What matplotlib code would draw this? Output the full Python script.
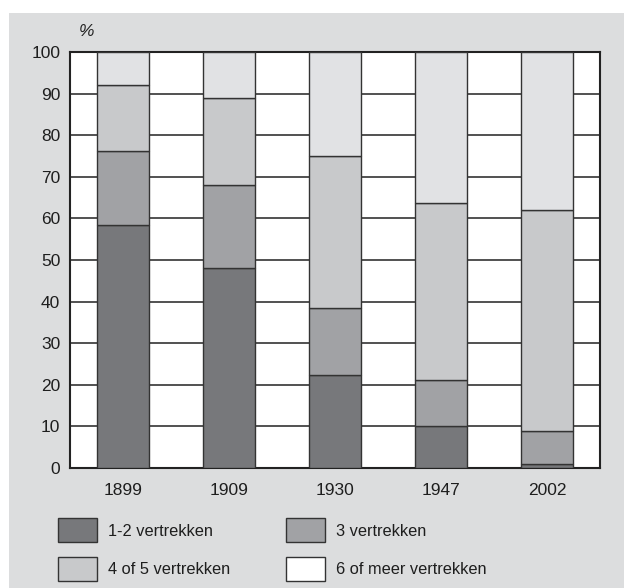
import matplotlib.pyplot as plt
from matplotlib.patches import Rectangle
import numpy as np

plt.rcParams['font.family'] = ['Liberation Sans', 'DejaVu Sans']

years = ["1899", "1909", "1930", "1947", "2002"]
labels = ["1-2 vertrekken", "3 vertrekken", "4 of 5 vertrekken", "6 of meer vertrekken"]
v12 = [58.3, 48.0, 22.3, 10.0, 1.0]
v3 = [17.9, 20.0, 16.2, 11.2, 8.0]
v45 = [15.9, 21.0, 36.4, 42.5, 53.0]
v6 = [100 - a - b - c for a, b, c in zip(v12, v3, v45)]
series = [v12, v3, v45, v6]
colors = ["#77787b", "#a1a2a5", "#c8c9cb", "#e1e2e4"]

fig = plt.figure(figsize=(6.24, 5.88), dpi=100)
fig.patches.append(Rectangle((9/624, 0), 1, 1 - 13/588, transform=fig.transFigure,
                             facecolor="#dcddde", edgecolor="none", zorder=-10))

ax = fig.add_axes([70/624, 1 - 468/588, 530/624, 416/588])
ax.set_facecolor("white")
x = np.arange(len(years))
bottom = np.zeros(len(years))
for vals, col in zip(series, colors):
    ax.bar(x, vals, width=0.49, bottom=bottom, color=col, edgecolor="#333333",
           linewidth=1.0, zorder=3)
    bottom += np.array(vals)

ax.set_xlim(-0.5, 4.5)
ax.set_ylim(0, 100)
ax.set_yticks(range(0, 101, 10))
ax.set_xticks(x, years)
ax.yaxis.grid(True, color="#333333", linewidth=1.2, zorder=0)
ax.set_axisbelow(True)
ax.tick_params(length=0, labelsize=12.5, colors="#1e1e1e")
ax.tick_params(axis="y", pad=7)
ax.tick_params(axis="x", pad=11)
for s in ax.spines.values():
    s.set_color("#222222")
    s.set_linewidth(1.5)

fig.text(79/624, 1 - 31/588, "%", fontsize=12.5, style="italic", color="#222222",
         va="center")

# legend
pos = [(58, 518, 0), (286, 518, 1), (58, 557, 2), (286, 557, 3)]
for px, py, i in pos:
    fig.patches.append(Rectangle((px/624, 1 - (py + 24)/588), 39/624, 24/588,
                                 transform=fig.transFigure, facecolor=colors[i] if i < 3 else "white",
                                 edgecolor="#333333", linewidth=1.0))
    fig.text((px + 50)/624, 1 - (py + 13)/588, labels[i], fontsize=11.8,
             color="#1e1e1e", va="center")

fig.savefig("out.png", dpi=100)
